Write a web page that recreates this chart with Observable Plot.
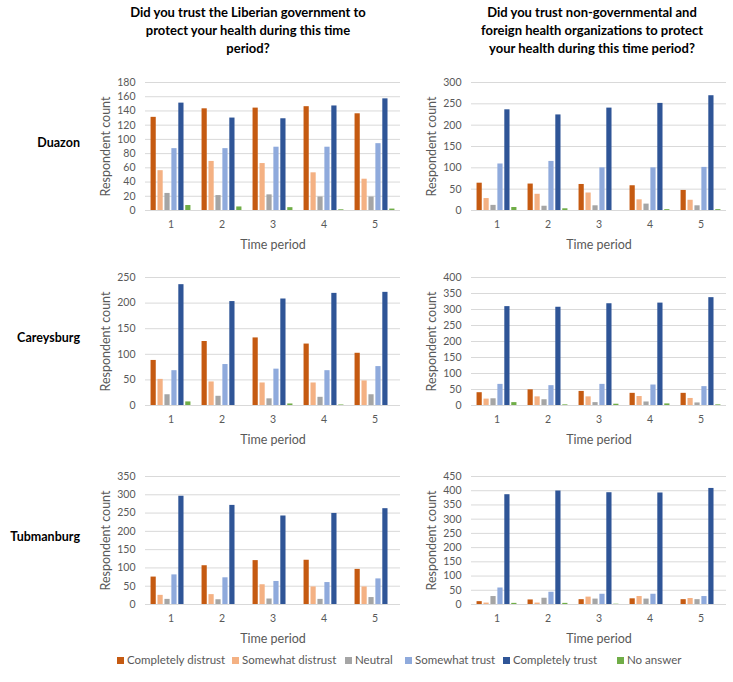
<!DOCTYPE html>
<html><head><meta charset="utf-8">
<script src="https://cdn.jsdelivr.net/npm/d3@7"></script>
<script src="https://cdn.jsdelivr.net/npm/@observablehq/plot@0.6"></script>
<style>
body{margin:0;background:#fff;font-family:Lato, "Open Sans", sans-serif;}
#root{position:relative;width:733px;height:682px;overflow:hidden;background:#fff;}
.ctitle{position:absolute;font-weight:bold;font-size:13px;text-align:center;line-height:18px;color:#000;white-space:nowrap}
.rlabel{position:absolute;font-weight:bold;font-size:12.5px;text-align:right;width:90px;color:#000}
.panel{position:absolute}
.legitem{position:absolute;top:653px;font-size:11.5px;color:#595959;white-space:nowrap;line-height:14px}
.legitem .sw{display:inline-block;width:7px;height:7px;margin-right:3px;vertical-align:0px}
</style></head>
<body><div id="root"></div>
<script>
const categories = ["Completely distrust","Somewhat distrust","Neutral","Somewhat trust","Completely trust","No answer"];
const colors = ["#c55a11","#f4b183","#a5a5a5","#8faadc","#2f5597","#70ad47"];
const periods = [1,2,3,4,5];
const towns = ["Duazon","Careysburg","Tubmanburg"];
const titleGov = ["Did you trust the Liberian government to","protect your health during this time","period?"];
const titleNgo = ["Did you trust non-governmental and","foreign health organizations to protect","your health during this time period?"];
const yLabel = "Respondent count";
const xLabel = "Time period";

// rows = periods 1..5, columns = categories
const duazonGov = [[131,56,24,87,151,7],[143,69,21,87,130,5],[144,66,22,89,129,4],[146,53,19,89,147,1],[136,44,19,94,157,2]];
const duazonNgo = [[64,28,12,109,236,7],[62,38,10,115,224,4],[61,41,11,100,240,0],[58,25,15,100,251,2],[47,24,11,101,269,2]];
const careysburgGov = [[88,51,21,68,236,7],[125,46,18,80,203,0],[132,44,13,71,208,3],[120,44,16,68,219,1],[102,48,21,76,221,0]];
const careysburgNgo = [[40,20,21,66,309,9],[49,27,18,62,307,2],[44,27,9,66,318,4],[38,28,11,64,320,5],[38,22,8,59,337,2]];
const tubmanburgGov = [[75,25,14,81,296,0],[106,27,13,73,271,0],[120,54,15,63,242,0],[121,48,14,60,249,0],[96,48,19,70,262,0]];
const tubmanburgNgo = [[10,5,28,58,386,4],[16,5,22,43,399,4],[17,26,19,36,393,1],[20,28,19,36,392,0],[17,21,17,28,408,0]];

const govMax = [180,250,350], govStep = [20,50,50];
const ngoMax = [300,400,450], ngoStep = [50,50,50];

const root = document.getElementById("root");

function addTitle(lines, cx){
  const d = document.createElement("div");
  d.className = "ctitle";
  d.innerHTML = lines.join("<br>");
  d.style.left = (cx - 200) + "px"; d.style.width = "400px"; d.style.top = "3px";
  root.appendChild(d);
}
addTitle(titleGov, 248);
addTitle(titleNgo, 592);

function panel(rows, yMax, step, ml, width){
  const data = [];
  rows.forEach((r,i)=> r.forEach((v,j)=> data.push({period: periods[i], category: categories[j], value: v})));
  const ticks = d3.range(0, yMax + 1, step);
  const svg = Plot.plot({
    width, height: 185, marginTop: 12, marginBottom: 45, marginLeft: ml, marginRight: 5,
    style: {fontFamily: "Lato, sans-serif", fontSize: "10.5px", color: "#595959", background: "white", overflow: "visible"},
    fx: {domain: periods, padding: 0, label: xLabel, labelAnchor: "center", tickSize: 0, tickPadding: 10, labelOffset: 38, axis: "bottom"},
    x: {domain: categories, axis: null, paddingInner: 0.25, paddingOuter: 0.8, round: false},
    y: {domain: [0, yMax], ticks, tickSize: 0, tickPadding: 10, label: yLabel, labelAnchor: "center", labelOffset: 44, labelArrow: false},
    color: {domain: categories, range: colors},
    marks: [
      Plot.ruleY(ticks, {stroke: "#d9d9d9"}),
      Plot.barY(data, {fx: "period", x: "category", y: "value", fill: "category"})
    ]
  });
  d3.select(svg).selectAll('[aria-label$="axis label"]').attr("font-size", "12.5px");
  return svg;
}

const rowTops = [70, 265, 464];
const govRows = [duazonGov, careysburgGov, tubmanburgGov];
const ngoRows = [duazonNgo, careysburgNgo, tubmanburgNgo];
towns.forEach((t, i) => {
  const lab = document.createElement("div");
  lab.className = "rlabel";
  lab.textContent = t;
  lab.style.left = "-10px";
  lab.style.top = (rowTops[i] + 65) + "px";
  root.appendChild(lab);

  const a = panel(govRows[i], govMax[i], govStep[i], 48, 311);
  a.classList.add("panel"); a.style.left = "95px"; a.style.top = rowTops[i] + "px";
  root.appendChild(a);
  const b = panel(ngoRows[i], ngoMax[i], ngoStep[i], 45, 306);
  b.classList.add("panel"); b.style.left = "425px"; b.style.top = rowTops[i] + "px";
  root.appendChild(b);
});

// legend item left edges (layout)
const legendLeft = [117, 232, 345, 405, 503, 617];
categories.forEach((c, i) => {
  const it = document.createElement("div");
  it.className = "legitem";
  it.style.left = legendLeft[i] + "px";
  it.innerHTML = `<span class="sw" style="background:${colors[i]}"></span>${c}`;
  root.appendChild(it);
});
</script>
</body></html>
